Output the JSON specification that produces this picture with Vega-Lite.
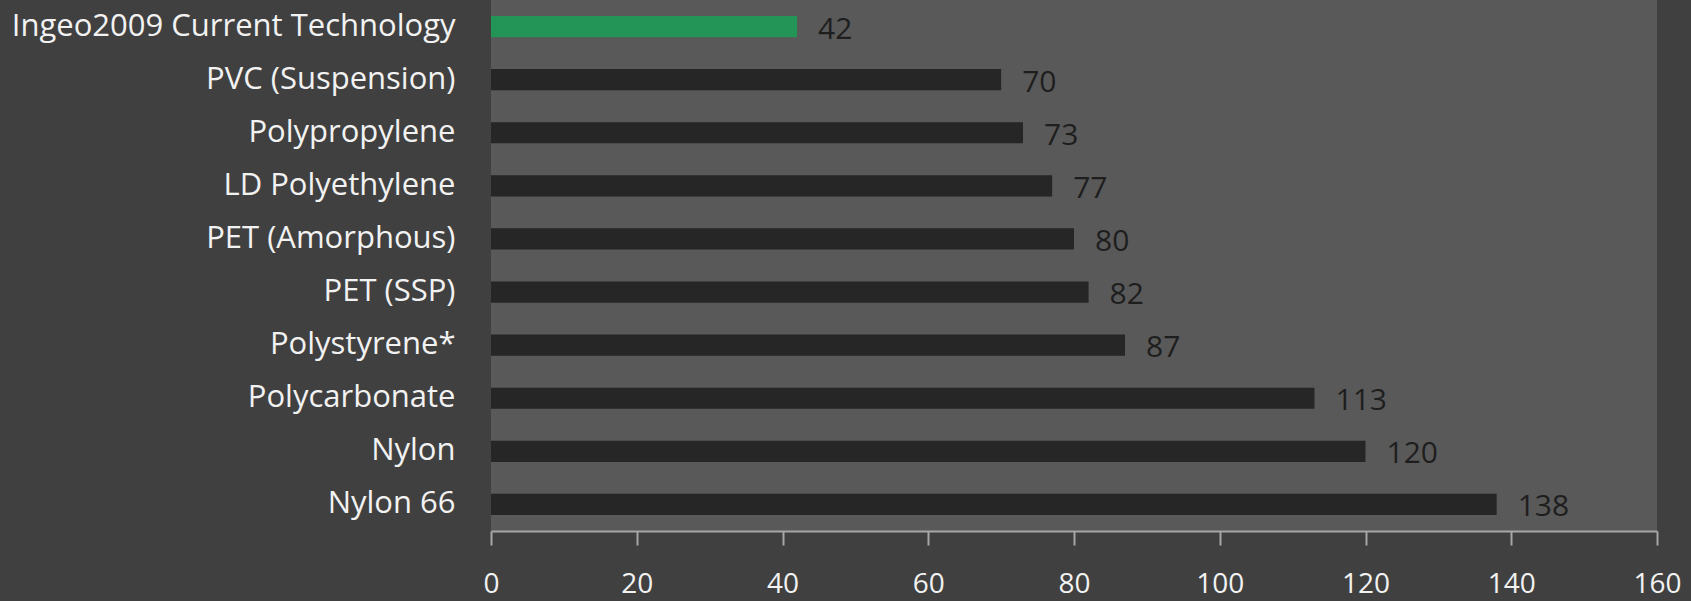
{
  "$schema": "https://vega.github.io/schema/vega-lite/v6.json",
  "width": 1166,
  "height": 531,
  "autosize": {"type": "none"},
  "padding": {"left": 491, "top": 0, "right": 34, "bottom": 70},
  "background": "#404040",
  "config": {
    "view": {"fill": "#595959", "stroke": null},
    "font": "Open Sans"
  },
  "data": {
    "values": [
      {"polymer": "Ingeo2009 Current Technology", "value": 42, "group": "Ingeo"},
      {"polymer": "PVC (Suspension)", "value": 70, "group": "Other"},
      {"polymer": "Polypropylene", "value": 73, "group": "Other"},
      {"polymer": "LD Polyethylene", "value": 77, "group": "Other"},
      {"polymer": "PET (Amorphous)", "value": 80, "group": "Other"},
      {"polymer": "PET (SSP)", "value": 82, "group": "Other"},
      {"polymer": "Polystyrene*", "value": 87, "group": "Other"},
      {"polymer": "Polycarbonate", "value": 113, "group": "Other"},
      {"polymer": "Nylon", "value": 120, "group": "Other"},
      {"polymer": "Nylon 66", "value": 138, "group": "Other"}
    ]
  },
  "encoding": {
    "y": {
      "field": "polymer",
      "type": "nominal",
      "sort": null,
      "scale": {"paddingInner": 0.6, "paddingOuter": 0.3},
      "axis": {
        "title": null,
        "domain": false,
        "ticks": false,
        "labelPadding": 36,
        "labelFontSize": 31,
        "labelColor": "#f2f2f2",
        "labelLimit": 600
      }
    },
    "x": {
      "field": "value",
      "type": "quantitative",
      "scale": {"domain": [0, 160], "nice": false},
      "axis": {
        "title": null,
        "values": [0, 20, 40, 60, 80, 100, 120, 140, 160],
        "grid": false,
        "domainColor": "#a6a6a6",
        "domainWidth": 2,
        "tickColor": "#a6a6a6",
        "tickWidth": 2,
        "tickSize": 14,
        "labelPadding": 25,
        "labelFontSize": 28,
        "labelColor": "#f2f2f2",
        "labelFlush": false
      }
    }
  },
  "layer": [
    {
      "mark": {"type": "bar"},
      "encoding": {
        "color": {
          "field": "group",
          "type": "nominal",
          "scale": {"domain": ["Ingeo", "Other"], "range": ["#229557", "#262626"]},
          "legend": null
        }
      }
    },
    {
      "mark": {"type": "text", "align": "left", "baseline": "middle", "dx": 21, "dy": 3, "fontSize": 30, "color": "#1e1e1e"},
      "encoding": {"text": {"field": "value", "type": "quantitative"}}
    }
  ]
}
